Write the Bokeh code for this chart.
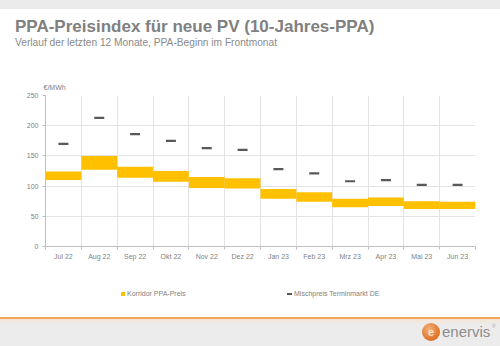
from bokeh.plotting import figure
from bokeh.models import (FixedTicker, ColumnDataSource, Range1d, Div, Title)
from bokeh.layouts import column
from bokeh.embed import file_html
from bokeh.resources import INLINE

months = ["Jul 22", "Aug 22", "Sep 22", "Okt 22", "Nov 22", "Dez 22",
          "Jan 23", "Feb 23", "Mrz 23", "Apr 23", "Mai 23", "Jun 23"]
korridor_low = [110, 127, 114, 107, 97, 96, 79, 74, 65, 67, 62, 62]
korridor_high = [124, 150, 132, 125, 115, 113, 95, 90, 79, 81, 75, 74]
mischpreis = [170, 213, 186, 175, 163, 160, 128, 121, 108, 110, 102, 102]
y_ticks = [0, 50, 100, 150, 200, 250]

title_text = "PPA-Preisindex für neue PV (10-Jahres-PPA)"
subtitle_text = "Verlauf der letzten 12 Monate, PPA-Beginn im Frontmonat"
unit_text = "€/MWh"
legend_bar = "Korridor PPA-Preis"
legend_dash = "Mischpreis Terminmarkt DE"

idx = list(range(len(months)))
src = ColumnDataSource(dict(
    left=idx,
    right=[i + 1 for i in idx],
    center=[i + 0.5 for i in idx],
    low=korridor_low,
    high=korridor_high,
    misch=mischpreis,
))

FONT = "Liberation Sans"
GREY = "#7f7f7f"

header = Div(width=500, height=60, margin=0, text=f"""
<div style="position:relative;width:500px;height:60px;background:#ffffff;font-family:'Liberation Sans',Arial,sans-serif;">
  <div style="position:absolute;left:0;top:0;width:500px;height:9px;background:#ebebeb;"></div>
  <div style="position:absolute;left:15px;top:17px;font-size:17px;font-weight:bold;color:#808080;line-height:20px;white-space:nowrap;">{title_text}</div>
  <div style="position:absolute;left:15px;top:37px;font-size:10.2px;color:#8a8a8a;line-height:12px;white-space:nowrap;">{subtitle_text}</div>
</div>""")

p = figure(width=500, height=210, output_backend="svg", toolbar_location=None,
           x_range=Range1d(0, len(months)), y_range=Range1d(0, 250),
           min_border_left=45, min_border_right=25, min_border_top=35,
           min_border_bottom=24, margin=0)
p.outline_line_color = None
p.background_fill_color = "white"
p.border_fill_color = "white"

p.add_layout(Title(text=unit_text, align="left", offset=-2, text_font=FONT,
                   text_font_size="7px", text_color=GREY, text_font_style="normal",
                   standoff=9), "above")

p.quad(left="left", right="right", bottom="low", top="high", source=src,
       fill_color="#FFC000", line_color=None)
p.scatter(x="center", y="misch", source=src, marker="dash", size=10,
          line_width=2.2, line_color="#595959")

# x axis
centers = [i + 0.5 for i in idx]
p.xaxis.ticker = FixedTicker(ticks=centers, minor_ticks=list(range(len(months) + 1)))
p.xaxis.major_label_overrides = {c: m for c, m in zip(centers, months)}
p.xaxis.major_tick_out = 0
p.xaxis.major_tick_in = 0
p.xaxis.minor_tick_out = 3
p.xaxis.minor_tick_in = 0
p.xaxis.minor_tick_line_color = "#bfbfbf"
p.xaxis.axis_line_color = "#bfbfbf"
p.xaxis.major_label_text_font = FONT
p.xaxis.major_label_text_font_size = "7px"
p.xaxis.major_label_text_color = GREY
p.xaxis.major_label_standoff = 3

p.xgrid.ticker = FixedTicker(ticks=list(range(len(months) + 1)))
p.xgrid.grid_line_color = "#e3e3e3"

# y axis
p.yaxis.ticker = FixedTicker(ticks=y_ticks)
p.yaxis.major_tick_out = 3
p.yaxis.major_tick_in = 0
p.yaxis.minor_tick_out = 0
p.yaxis.minor_tick_in = 0
p.yaxis.major_tick_line_color = "#bfbfbf"
p.yaxis.axis_line_color = "#bfbfbf"
p.yaxis.major_label_text_font = FONT
p.yaxis.major_label_text_font_size = "7px"
p.yaxis.major_label_text_color = GREY
p.yaxis.major_label_standoff = 4
p.ygrid.grid_line_color = "#e3e3e3"

footer = Div(width=500, height=76, margin=0, text=f"""
<div style="position:relative;width:500px;height:76px;background:#ffffff;font-family:'Liberation Sans',Arial,sans-serif;overflow:hidden;">
  <div style="position:absolute;left:121px;top:22px;width:4px;height:4px;background:#FFC000;"></div>
  <div style="position:absolute;left:127px;top:19px;font-size:7px;line-height:10px;color:{GREY};white-space:nowrap;">{legend_bar}</div>
  <div style="position:absolute;left:287px;top:23px;width:5px;height:1.5px;background:#595959;"></div>
  <div style="position:absolute;left:294px;top:19px;font-size:7px;line-height:10px;color:{GREY};white-space:nowrap;">{legend_dash}</div>
  <div style="position:absolute;left:0;top:47px;width:500px;height:2px;background:#f3a55a;"></div>
  <div style="position:absolute;left:0;top:49px;width:500px;height:27px;background:linear-gradient(#f6e6d6,#ececec 6px,#ececec);"></div>
  <div style="position:absolute;left:422px;top:53px;width:18px;height:18px;border-radius:50%;background:radial-gradient(circle at 40% 35%,#f4b27a,#e07a30 60%,#c4601e);"></div>
  <div style="position:absolute;left:422px;top:53px;width:18px;height:18px;line-height:18px;text-align:center;font-size:11px;font-weight:bold;color:#fbe3cc;">e</div>
  <div style="position:absolute;left:442px;top:52px;font-size:15px;line-height:20px;color:#8c8c8c;white-space:nowrap;">enervis</div>
  <div style="position:absolute;left:492px;top:53px;font-size:5px;line-height:6px;color:#aaaaaa;">®</div>
</div>""")

layout = column(header, p, footer, spacing=0, margin=0)

open("out.html", "w").write(file_html(layout, INLINE))
